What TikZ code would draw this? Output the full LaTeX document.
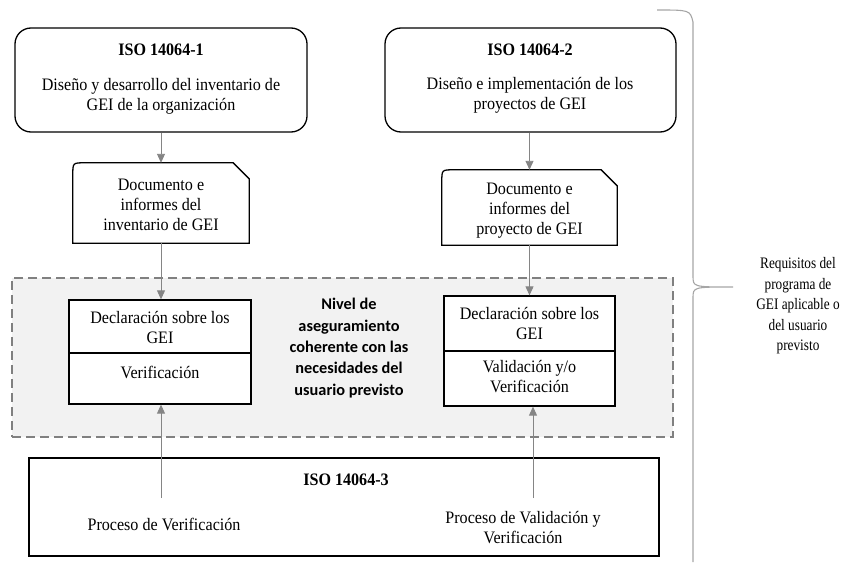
\documentclass[tikz,border=0pt]{standalone}
\usepackage{fontspec}
\setmainfont{Liberation Serif}[FakeStretch=0.92]
\newfontfamily\narrowserif{Liberation Serif}[FakeStretch=0.83]
\newfontfamily\calib{Carlito}
\usetikzlibrary{arrows.meta}
\definecolor{arrowgray}{HTML}{858585}
\definecolor{regfill}{HTML}{F2F2F2}
\definecolor{reggray}{HTML}{808080}
\definecolor{bracegray}{HTML}{A6A6A6}
\begin{document}
\begin{tikzpicture}[x=1pt,y=-1pt,
  font=\fontsize{17.5}{20}\selectfont,
  box/.style={draw=black, line width=1.3pt, fill=white, inner sep=0pt},
  txt/.style={align=center, inner sep=0pt},
  ttl/.style={txt, font=\fontsize{17.5}{20}\selectfont\bfseries},
  conn/.style={draw=arrowgray, line width=0.9pt, -{Triangle[length=9pt,width=8pt]}},
  region/.style={draw=reggray, fill=regfill, line width=1.4pt, dash pattern=on 9pt off 5pt, inner sep=0pt},
  docbox/.style={draw=black, line width=1.3pt, fill=white},
]
\useasboundingbox (0,0) rectangle (843,562);
\fill[white] (0,0) rectangle (843,562);

% dashed region
\node[region, minimum width=661pt, minimum height=159pt] (reg) at (342.5,357.5) {};

% top boxes
\node[box, rounded corners=16pt, minimum width=292pt, minimum height=104pt] (b1) at (161,80) {};
\node[ttl] (t1) at (161,50) {ISO 14064-1};
\node[txt] (t1d) at (161,96) {Diseño y desarrollo del inventario de\\GEI de la organización};

\node[box, rounded corners=16pt, minimum width=291pt, minimum height=104pt] (b2) at (530.5,80) {};
\node[ttl] (t2) at (530,50) {ISO 14064-2};
\node[txt] (t2d) at (530,95) {Diseño e implementación de los\\proyectos de GEI};

% document boxes
\node[inner sep=0pt, minimum width=176pt, minimum height=80pt] (d1) at (161,203) {};
\draw[docbox] (d1.south west) -- ([yshift=-12pt]d1.north west) .. controls (d1.north west) .. ([xshift=12pt]d1.north west) -- ([xshift=-16pt]d1.north east) -- ([yshift=-16pt]d1.north east) -- (d1.south east) -- cycle;
\node[txt] (d1t) at (161,205) {Documento e\\informes del\\inventario de GEI};

\node[inner sep=0pt, minimum width=175pt, minimum height=75pt] (d2) at (529.5,207.5) {};
\draw[docbox] (d2.south west) -- ([yshift=-12pt]d2.north west) .. controls (d2.north west) .. ([xshift=12pt]d2.north west) -- ([xshift=-16pt]d2.north east) -- ([yshift=-16pt]d2.north east) -- (d2.south east) -- cycle;
\node[txt] (d2t) at (529.5,211) {Documento e\\informes del\\proyecto de GEI};

% declaration boxes
\node[box, minimum width=182pt, minimum height=53pt] (c1a) at (160,326.5) {};
\node[box, minimum width=182pt, minimum height=51pt] (c1b) at (160,378.5) {};
\node[txt] (c1at) at (160,327) {Declaración sobre los\\GEI};
\node[txt] (c1bt) at (160,372) {Verificación};

\node[box, minimum width=171pt, minimum height=55pt] (c2a) at (529.5,323.5) {};
\node[box, minimum width=171pt, minimum height=55pt] (c2b) at (529.5,378.5) {};
\node[txt] (c2at) at (529.5,323) {Declaración sobre los\\GEI};
\node[txt] (c2bt) at (529.5,377) {Validación y/o\\Verificación};

% middle bold text
\node[txt, font=\calib\fontsize{16.3}{21.3}\selectfont\bfseries] (nv) at (349,348) {Nivel de\\aseguramiento\\coherente con las\\necesidades del\\usuario previsto};

% bottom box
\node[box, minimum width=630pt, minimum height=98pt] (bb) at (344,507) {};
\node[ttl] (t3) at (346,480) {ISO 14064-3};
\node[txt] (p1) at (164,524) {Proceso de Verificación};
\node[txt] (p2) at (523,528) {Proceso de Validación y\\Verificación};

% connectors
\draw[conn] (b1.south -| d1.north) -- (d1.north);
\draw[conn] (b2.south -| d2.north) -- (d2.north);
\draw[conn] (d1.south) -- (d1.south |- c1a.north);
\draw[conn] (d2.south) -- (d2.south |- c2a.north);
\coordinate (s1) at (161,498);
\coordinate (s2) at (533,498);
\draw[conn] (s1) -- (s1 |- c1b.south);
\draw[conn] (s2) -- (s2 |- c2b.south);

% brace
\draw[bracegray, line width=1.1pt] (657,10) .. controls (690,10) .. (693,22) -- (693,276) .. controls (693,287) .. (733,287) .. controls (693,287) .. (693,298) -- (693,562);
\node[txt, font=\narrowserif\fontsize{16}{20.5}\selectfont] (rq) at (798,306) {Requisitos del\\programa de\\GEI aplicable o\\del usuario\\previsto};
\end{tikzpicture}
\end{document}
